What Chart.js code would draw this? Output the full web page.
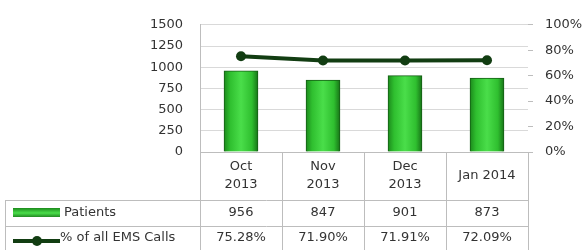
<!DOCTYPE html>
<html>
<head>
<meta charset="utf-8">
<script src="https://cdn.jsdelivr.net/npm/chart.js@4/dist/chart.umd.min.js"></script>
<style>
  body { margin: 0; background: #fff; }
  #wrap { width: 587px; height: 250px; position: relative; }
</style>
</head>
<body>
<div id="wrap"><canvas id="grafico"></canvas></div>
<script>
// datos del gráfico
const meses = [['Oct', '2013'], ['Nov', '2013'], ['Dec', '2013'], ['Jan 2014']];
const pacientes = [956, 847, 901, 873];
const porcentajeEMS = [75.28, 71.90, 71.91, 72.09];
const nombresSeries = ['Patients', '% of all EMS Calls'];
const ejePacientes = { min: 0, max: 1500, paso: 250 };
const ejePorcentaje = { min: 0, max: 100, paso: 20 };

const verdeLinea = '#123d12';
const grisTabla = '#bdbdbd';

Chart.defaults.font.family = 'DejaVu Sans';
Chart.defaults.font.size = 13;
Chart.defaults.color = '#333';

// degradado horizontal para cada barra
function degradadoBarra(context) {
    const chart = context.chart;
    const x = chart.scales.x;
    if (!x || !chart.chartArea) return '#33cc33';
    const cx = x.getPixelForValue(context.dataIndex);
    const g = chart.ctx.createLinearGradient(cx - 17, 0, cx + 17, 0);
    g.addColorStop(0, '#1c8a1c');
    g.addColorStop(0.18, '#2fbf2f');
    g.addColorStop(0.5, '#4ade4a');
    g.addColorStop(0.82, '#2fbf2f');
    g.addColorStop(1, '#177317');
    return g;
}

// tabla de datos debajo del gráfico
const tablaDatos = {
    id: 'tablaDatos',
    afterDraw(chart) {
        const ctx = chart.ctx;
        const area = chart.chartArea;
        const x = chart.scales.x;
        const filaCab = area.bottom + 48;
        const fila1 = filaCab + 26;
        const fila2 = chart.height;
        const izq = 5;

        const centros = meses.map((_, i) => x.getPixelForValue(i));
        const bordes = [area.left];
        for (let i = 0; i < centros.length - 1; i++) bordes.push((centros[i] + centros[i + 1]) / 2);
        bordes.push(area.right);

        ctx.save();
        ctx.strokeStyle = grisTabla;
        ctx.lineWidth = 1;
        ctx.beginPath();
        ctx.moveTo(area.left, area.bottom + 0.5); ctx.lineTo(area.right, area.bottom + 0.5);
        ctx.moveTo(izq, filaCab + 0.5); ctx.lineTo(area.right, filaCab + 0.5);
        ctx.moveTo(izq, fila1 + 0.5); ctx.lineTo(area.right, fila1 + 0.5);
        bordes.forEach(b => {
            const bx = Math.round(b) + 0.5;
            ctx.moveTo(bx, area.bottom); ctx.lineTo(bx, fila2);
        });
        ctx.moveTo(izq + 0.5, filaCab); ctx.lineTo(izq + 0.5, fila2);
        ctx.stroke();

        ctx.fillStyle = '#333';
        ctx.font = '13px "DejaVu Sans"';
        ctx.textAlign = 'center';
        ctx.textBaseline = 'middle';
        const medioCab = (area.bottom + filaCab) / 2;
        meses.forEach((m, i) => {
            const lineas = Array.isArray(m) ? m : [m];
            lineas.forEach((t, j) => {
                ctx.fillText(t, centros[i], medioCab + (j - (lineas.length - 1) / 2) * 18);
            });
            ctx.fillText(String(pacientes[i]), centros[i], (filaCab + fila1) / 2);
            ctx.fillText(porcentajeEMS[i].toFixed(2) + '%', centros[i], (fila1 + fila2) / 2);
        });

        // leyenda dentro de la tabla
        const y1 = (filaCab + fila1) / 2;
        const y2 = (fila1 + fila2) / 2 + 3;
        const gk = ctx.createLinearGradient(0, y1 - 5, 0, y1 + 5);
        gk.addColorStop(0, '#1c8a1c');
        gk.addColorStop(0.5, '#4ade4a');
        gk.addColorStop(1, '#177317');
        ctx.fillStyle = gk;
        ctx.fillRect(13, y1 - 5, 47, 9);

        ctx.strokeStyle = verdeLinea;
        ctx.lineWidth = 4;
        ctx.beginPath();
        ctx.moveTo(13, y2); ctx.lineTo(60, y2);
        ctx.stroke();
        ctx.fillStyle = verdeLinea;
        ctx.beginPath();
        ctx.arc(37, y2, 5, 0, Math.PI * 2);
        ctx.fill();

        ctx.fillStyle = '#333';
        ctx.textAlign = 'left';
        ctx.fillText(nombresSeries[0], 64, y1);
        ctx.fillText(nombresSeries[1], 60, (fila1 + fila2) / 2);
        ctx.restore();
    }
};

const ctx = document.getElementById('grafico').getContext('2d');

new Chart(ctx, {
    data: {
        labels: meses,
        datasets: [{
            type: 'line',
            label: nombresSeries[1],
            data: porcentajeEMS,
            yAxisID: 'y1',
            borderColor: verdeLinea,
            backgroundColor: verdeLinea,
            borderWidth: 4,
            pointRadius: 5,
            pointBackgroundColor: verdeLinea,
            pointBorderWidth: 0,
            order: 0
        }, {
            type: 'bar',
            label: nombresSeries[0],
            data: pacientes,
            yAxisID: 'y',
            backgroundColor: degradadoBarra,
            borderColor: '#145e14',
            borderWidth: 1,
            barThickness: 34,
            order: 1
        }]
    },
    options: {
        responsive: true,
        maintainAspectRatio: false,
        animation: false,
        layout: { padding: { top: 18, bottom: 50, left: 0, right: 0 } },
        plugins: {
            legend: { display: false },
            tooltip: { enabled: false }
        },
        scales: {
            x: {
                grid: { display: false },
                border: { display: false },
                ticks: { display: false },
                afterFit: scale => { scale.height = 48; }
            },
            y: {
                position: 'left',
                min: ejePacientes.min,
                max: ejePacientes.max,
                ticks: { stepSize: ejePacientes.paso, padding: 17, callback: v => String(v) },
                grid: { color: '#d9d9d9', drawTicks: false },
                border: { display: true, color: grisTabla },
                afterFit: scale => { scale.width = 200; }
            },
            y1: {
                position: 'right',
                min: ejePorcentaje.min,
                max: ejePorcentaje.max,
                ticks: { stepSize: ejePorcentaje.paso, padding: 12, callback: v => v + '%' },
                grid: { drawOnChartArea: false, drawTicks: true, tickLength: 5, color: grisTabla },
                border: { display: false },
                afterFit: scale => { scale.width = 59; }
            }
        }
    },
    plugins: [tablaDatos]
});
</script>
</body>
</html>
